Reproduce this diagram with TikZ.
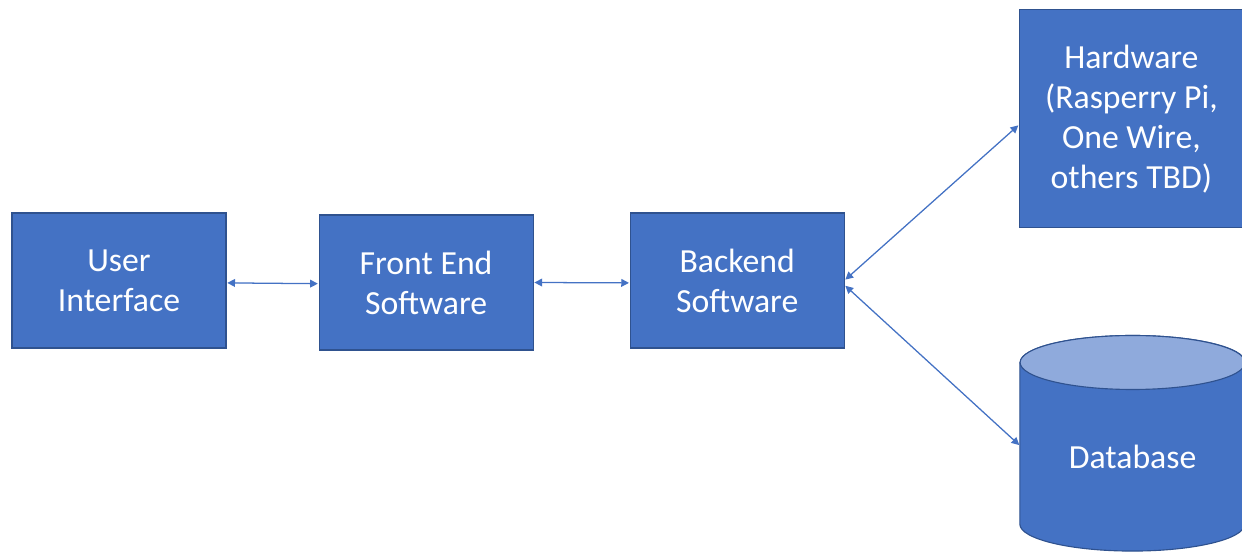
\documentclass[tikz,border=0pt]{standalone}
\usepackage{fontspec}
\setmainfont{Carlito}
\usepackage{tikz}
\usetikzlibrary{arrows.meta,positioning,calc,backgrounds}
\definecolor{cFill}{HTML}{4472C4}
\definecolor{cEdge}{HTML}{2F528F}
\definecolor{cTop}{HTML}{8FAADC}
\tikzset{
  blk/.style={draw=cEdge, line width=0.8pt, fill=cFill, text=white, align=center,
              font=\fontsize{24}{28.4}\selectfont, minimum width=5.35cm,
              minimum height=3.375cm, inner sep=2pt},
  hwblk/.style={blk, minimum width=5.6cm, minimum height=5.45cm},
  dbblk/.style={text=white, align=center, font=\fontsize{24}{28.4}\selectfont,
                minimum width=5.625cm, minimum height=4.7cm, inner sep=0pt},
  dbbody/.style={draw=cEdge, line width=0.8pt, fill=cFill},
  dbtop/.style={draw=cEdge, line width=0.8pt, fill=cTop},
  link/.style={{Triangle[length=5.5pt,width=5.5pt]}-{Triangle[length=5.5pt,width=5.5pt]},
               line width=0.9pt, draw=cFill, fill=cFill, shorten <=0.5pt, shorten >=0.5pt},
}
\begin{document}
\begin{tikzpicture}
  \useasboundingbox (0,0) rectangle (31.05,13.8);
  \node[blk] (ui) at (2.975,6.7875) {User\\Interface};
  \node[blk, right=2.3cm of ui, yshift=-0.05cm] (fe) {Front End\\Software};
  \node[blk, right=2.4cm of fe, yshift=0.05cm] (be) {Backend\\Software};
  \node[hwblk, anchor=west] (hw) at ([shift={(4.35cm,4.04cm)}]be.east) {Hardware\\(Rasperry Pi,\\One Wire,\\others TBD)};
  \node[dbblk, anchor=north west] (db) at ([shift={(4.375cm,-2.05cm)}]be.east) {Database};

  % cylinder outline behind the label
  \begin{scope}[on background layer]
    \path[dbbody] (db.north west) -- ([yshift=0.675cm]db.south west)
      arc[start angle=180, end angle=360, x radius=2.8125cm, y radius=0.675cm]
      -- (db.north east) arc[start angle=0, end angle=180, x radius=2.8125cm, y radius=0.675cm] -- cycle;
    \draw[dbtop] (db.north) ellipse[x radius=2.8125cm, y radius=0.675cm];
  \end{scope}

  \draw[link] ([yshift=-0.06cm]ui.east) -- ([yshift=-0.03cm]fe.west);
  \draw[link] (fe.east) -- ([yshift=-0.06cm]be.west);
  \draw[link] ([yshift=0.01cm]be.east) -- ([yshift=-0.15cm]hw.west);
  \draw[link] ([yshift=-0.12cm]be.east) -- ([yshift=0.28cm]db.west);
\end{tikzpicture}
\end{document}
